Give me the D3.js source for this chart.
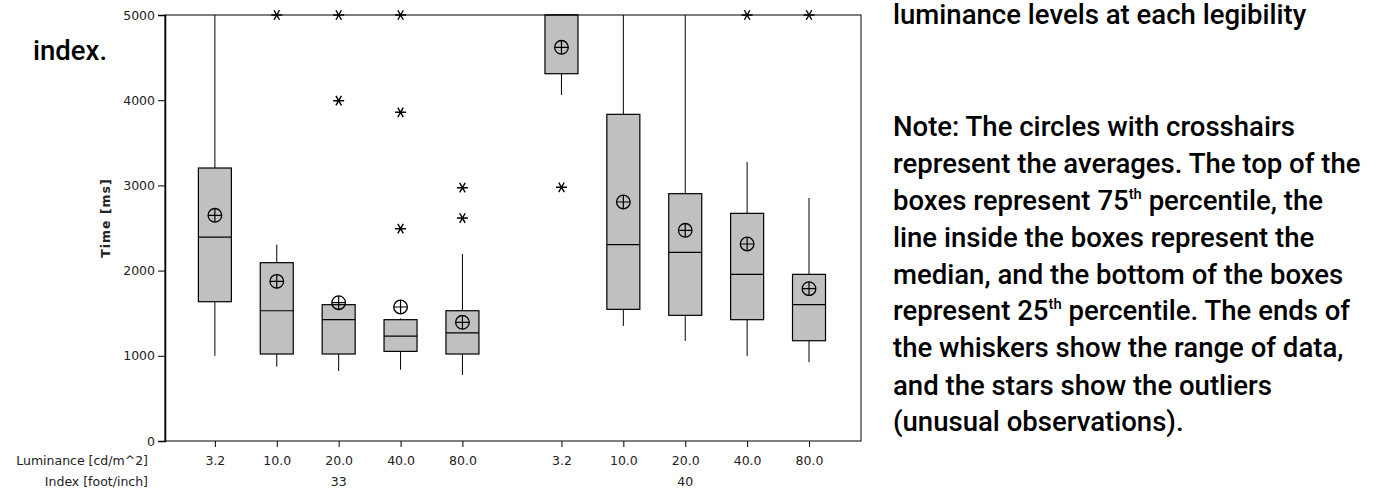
<!DOCTYPE html>
<html lang="en">
<head>
    <meta charset="UTF-8">
    <title>Time by luminance and legibility index</title>
    <script src="https://d3js.org/d3.v7.min.js"></script>
    <style>
        body { margin: 0; padding: 0; background: #fff; }
        .axis text, .lab { font-family: "DejaVu Sans", sans-serif; font-size: 12.5px; fill: #222; }
        .note { font-family: Roboto, sans-serif; font-weight: 500; font-size: 28px; fill: #000; }
    </style>
</head>
<body>
<svg id="chart" width="1377" height="491"></svg>
<script>
    // Data (ms)
    const luminance = ["3.2", "10.0", "20.0", "40.0", "80.0", "3.2", "10.0", "20.0", "40.0", "80.0"];
    const indexGroup = ["33", "33", "33", "33", "33", "40", "40", "40", "40", "40"];
    const whiskerLow = [1000, 872, 822, 837, 775, 4061, 1350, 1174, 998, 927];
    const q1 = [1635, 1021, 1021, 1052, 1021, 4311, 1545, 1475, 1424, 1177];
    const median = [2394, 1529, 1424, 1232, 1268, 5000, 2304, 2215, 1956, 1600];
    const q3 = [3204, 2093, 1600, 1424, 1529, 5000, 3834, 2903, 2672, 1956];
    const whiskerHigh = [5000, 2304, 1600, 1440, 2195, 5000, 5000, 5000, 3275, 2852];
    const means = [2649, 1874, 1623, 1573, 1393, 4621, 2805, 2473, 2312, 1788];
    const outliers = [[], [5000], [5000, 3994], [5000, 3858, 2492], [2973, 2617], [2978], [], [], [5000], [5000]];
    const yTicks = [0, 1000, 2000, 3000, 4000, 5000];

    const svg = d3.select("#chart");
    const pLeft = 165, pRight = 861, pTop = 15, pBottom = 441;

    // position along x: groups separated by an extra gap
    const groups = Array.from(new Set(indexGroup));
    const pos = i => i + groups.indexOf(indexGroup[i]) * 0.6;
    const x = d3.scaleLinear().domain([-0.806, 10.44]).range([pLeft, pRight]);
    const y = d3.scaleLinear().domain([0, 5000]).range([pBottom, pTop]);
    const boxW = 33;

    // frame
    svg.append("rect")
        .attr("x", pLeft).attr("y", pTop)
        .attr("width", pRight - pLeft).attr("height", pBottom - pTop)
        .attr("fill", "none").attr("stroke", "#000").attr("stroke-width", 1);

    // y axis
    const yAxis = svg.append("g").attr("class", "axis")
        .attr("transform", `translate(${pLeft},0)`)
        .call(d3.axisLeft(y).tickValues(yTicks).tickSize(7).tickPadding(3).tickFormat(d3.format("d")));
    yAxis.select(".domain").attr("stroke", "#000").attr("stroke-width", 1.5);
    yAxis.selectAll(".tick line").attr("stroke", "#000");

    // x axis
    const xAxis = svg.append("g").attr("class", "axis")
        .attr("transform", `translate(0,${pBottom})`)
        .call(d3.axisBottom(x).tickValues(d3.range(luminance.length).map(pos))
            .tickSize(6).tickPadding(9)
            .tickFormat((d, i) => luminance[i]));
    xAxis.select(".domain").remove();
    xAxis.selectAll(".tick line").attr("stroke", "#000");

    // group labels
    groups.forEach(g => {
        const idx = indexGroup.map((v, i) => v === g ? pos(i) : null).filter(v => v !== null);
        svg.append("text").attr("class", "lab")
            .attr("x", x(d3.mean(idx))).attr("y", 486)
            .attr("text-anchor", "middle")
            .text(g);
    });

    svg.append("text").attr("class", "lab")
        .attr("x", 148).attr("y", 465).attr("text-anchor", "end")
        .text("Luminance [cd/m^2]");
    svg.append("text").attr("class", "lab")
        .attr("x", 148).attr("y", 486).attr("text-anchor", "end")
        .text("Index [foot/inch]");

    svg.append("text").attr("class", "lab")
        .attr("transform", "translate(110,218) rotate(-90)")
        .attr("text-anchor", "middle")
        .style("font-weight", "bold").style("letter-spacing", "1px")
        .text("Time [ms]");

    // boxes
    const plot = svg.append("g");
    luminance.forEach((lab, i) => {
        const cx = x(pos(i));
        const g = plot.append("g");
        // whiskers
        g.append("line")
            .attr("x1", cx).attr("x2", cx)
            .attr("y1", y(whiskerLow[i])).attr("y2", y(q1[i]))
            .attr("stroke", "#000").attr("stroke-width", 1);
        g.append("line")
            .attr("x1", cx).attr("x2", cx)
            .attr("y1", y(q3[i])).attr("y2", y(whiskerHigh[i]))
            .attr("stroke", "#000").attr("stroke-width", 1);
        g.append("rect")
            .attr("x", cx - boxW / 2).attr("y", y(q3[i]))
            .attr("width", boxW).attr("height", y(q1[i]) - y(q3[i]))
            .attr("fill", "#c0c0c0").attr("stroke", "#000").attr("stroke-width", 1.2);
        g.append("line")
            .attr("x1", cx - boxW / 2).attr("x2", cx + boxW / 2)
            .attr("y1", y(median[i])).attr("y2", y(median[i]))
            .attr("stroke", "#000").attr("stroke-width", 1.2);
        // mean: circle with crosshair
        const my = y(means[i]), r = 6.8;
        g.append("circle").attr("cx", cx).attr("cy", my).attr("r", r)
            .attr("fill", "none").attr("stroke", "#000").attr("stroke-width", 1.3);
        g.append("path")
            .attr("d", `M${cx - r},${my}H${cx + r}M${cx},${my - r}V${my + r}`)
            .attr("stroke", "#000").attr("stroke-width", 1.2);
        // outliers as stars
        outliers[i].forEach(v => {
            const oy = y(v), s = 5.5;
            const a = s * Math.cos(Math.PI / 3), b = s * Math.sin(Math.PI / 3);
            g.append("path")
                .attr("d", `M${cx - s},${oy}H${cx + s}M${cx - a},${oy - b}L${cx + a},${oy + b}M${cx + a},${oy - b}L${cx - a},${oy + b}`)
                .attr("stroke", "#000").attr("stroke-width", 1.4);
        });
    });

    // surrounding note text
    const noteLines = [
        [["luminance levels at each legibility"]],
        [["Note: The circles with crosshairs"]],
        [["represent the averages. The top of the"]],
        [["boxes represent 75"], ["th", true], [" percentile, the"]],
        [["line inside the boxes represent the"]],
        [["median, and the bottom of the boxes"]],
        [["represent 25"], ["th", true], [" percentile. The ends of"]],
        [["the whiskers show the range of data,"]],
        [["and the stars show the outliers"]],
        [["(unusual observations)."]]
    ];
    const noteY = [23.5, 136, 172.5, 209.5, 246.5, 283.5, 320, 357, 394.5, 431];
    const noteNodes = noteLines.map((parts, k) => {
        const t = svg.append("text").attr("class", "note");
        parts.forEach(([s, sup]) => {
            if (sup) {
                t.append("tspan").attr("dy", -11).style("font-size", "15px").text(s);
            } else {
                const ts = t.append("tspan").text(s);
                if (parts.length > 1 && s.startsWith(" ")) ts.attr("dy", 11);
            }
        });
        return t;
    });
    const idxNote = svg.append("text").attr("class", "note").text("index.");
    // condensed look: squeeze horizontally so the "Note:" line is 402px wide
    const sx = 402 / noteNodes[1].node().getComputedTextLength();
    noteNodes.forEach((t, k) => t.attr("transform", `translate(893,${noteY[k]}) scale(${sx},1)`));
    idxNote.attr("transform", `translate(33,60) scale(${sx},1)`);
</script>
</body>
</html>
